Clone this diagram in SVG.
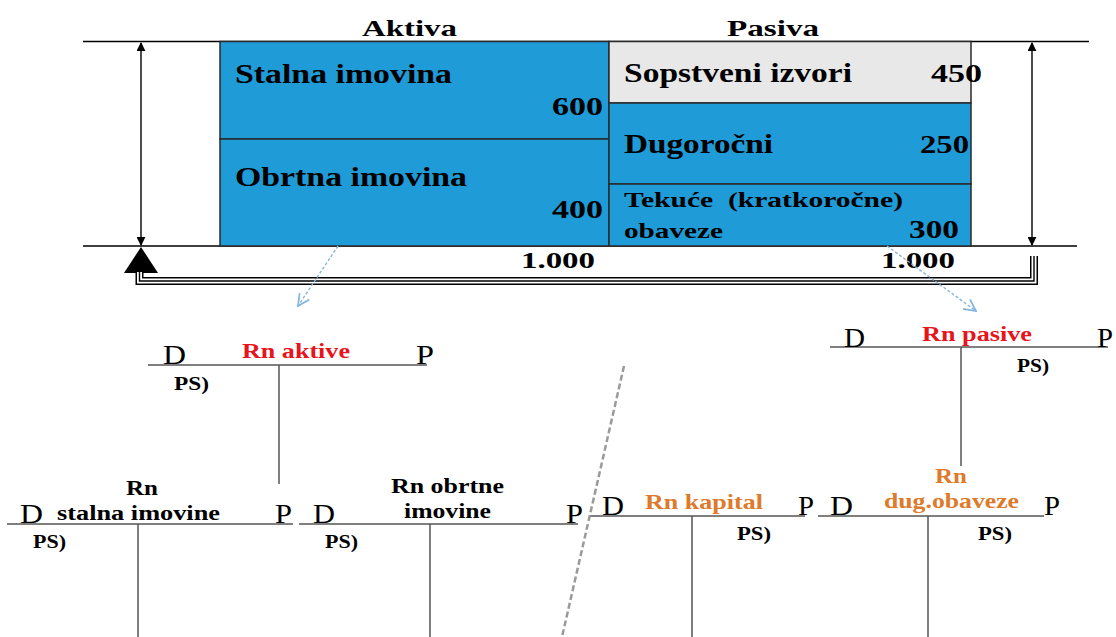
<svg xmlns="http://www.w3.org/2000/svg" width="1116" height="637" viewBox="0 0 1116 637">
<style>
.t{font-family:"Liberation Serif","Times New Roman",serif;font-weight:bold;fill:#000}
.dp{font-family:"Liberation Serif","Times New Roman",serif;font-size:27px;fill:#000}
.box{stroke:#2a2a2a;stroke-width:1.5}
.blue{fill:#1F9BD8}
.gray{fill:#E8E8E8}
.rule{stroke:#000;stroke-width:1.4;fill:none}
.tl{stroke:#555;stroke-width:1.5;fill:none}
.red{fill:#E8141C}
.org{fill:#DE7A2C}
.dash{stroke:#86B6DC;stroke-width:1.4;stroke-dasharray:3 2;fill:none}
</style>
<defs>
<marker id="ah" viewBox="0 0 10 10" refX="9" refY="5" markerWidth="9" markerHeight="9" markerUnits="userSpaceOnUse" orient="auto-start-reverse"><path d="M0,0 L10,5 L0,10 Z" fill="#000"/></marker>
<marker id="open" viewBox="0 0 12 12" refX="11" refY="6" markerWidth="14" markerHeight="14" markerUnits="userSpaceOnUse" orient="auto"><path d="M1,1 L11,6 L1,11" fill="none" stroke="#86B6DC" stroke-width="1.5"/></marker>
</defs>
<rect width="1116" height="637" fill="#fff"/>

<g id="balance-sheet">
  <text class="t" x="362" y="36" font-size="24" textLength="95" lengthAdjust="spacingAndGlyphs">Aktiva</text>
  <text class="t" x="727" y="36" font-size="24" textLength="92" lengthAdjust="spacingAndGlyphs">Pasiva</text>
  <line class="rule" x1="83" y1="41.5" x2="1089" y2="41.5"/>
  <line class="rule" x1="83" y1="246" x2="1077" y2="246"/>
  <g id="aktiva-stalna">
    <rect class="box blue" x="220" y="41.5" width="389" height="97.5"/>
    <text class="t" x="235" y="83" font-size="27" textLength="217" lengthAdjust="spacingAndGlyphs">Stalna imovina</text>
    <text class="t" x="552" y="115" font-size="26" textLength="51" lengthAdjust="spacingAndGlyphs">600</text>
  </g>
  <g id="aktiva-obrtna">
    <rect class="box blue" x="220" y="139" width="389" height="107"/>
    <text class="t" x="235" y="186" font-size="27" textLength="232" lengthAdjust="spacingAndGlyphs">Obrtna imovina</text>
    <text class="t" x="552" y="218" font-size="26" textLength="51" lengthAdjust="spacingAndGlyphs">400</text>
  </g>
  <g id="pasiva-sopstveni">
    <rect class="box gray" x="609" y="41.5" width="362" height="61.5"/>
    <text class="t" x="624" y="82" font-size="27" textLength="228" lengthAdjust="spacingAndGlyphs">Sopstveni izvori</text>
    <text class="t" x="931" y="82" font-size="26" textLength="51" lengthAdjust="spacingAndGlyphs">450</text>
  </g>
  <g id="pasiva-dugorocni">
    <rect class="box blue" x="609" y="103" width="362" height="81"/>
    <text class="t" x="624" y="153" font-size="27" textLength="149" lengthAdjust="spacingAndGlyphs">Dugoročni</text>
    <text class="t" x="920" y="153" font-size="26" textLength="49" lengthAdjust="spacingAndGlyphs">250</text>
  </g>
  <g id="pasiva-tekuce">
    <rect class="box blue" x="609" y="184" width="362" height="62"/>
    <text class="t" x="624" y="207" font-size="21" textLength="279" lengthAdjust="spacingAndGlyphs">Tekuće&#160; (kratkoročne)</text>
    <text class="t" x="624" y="238" font-size="21" textLength="99" lengthAdjust="spacingAndGlyphs">obaveze</text>
    <text class="t" x="909" y="238" font-size="26" textLength="50" lengthAdjust="spacingAndGlyphs">300</text>
  </g>
  <text class="t" x="521" y="268" font-size="24" textLength="74" lengthAdjust="spacingAndGlyphs">1.000</text>
  <text class="t" x="881" y="268" font-size="24" textLength="74" lengthAdjust="spacingAndGlyphs">1.000</text>
  <line class="rule" x1="141" y1="43" x2="141" y2="245" marker-start="url(#ah)" marker-end="url(#ah)"/>
  <line class="rule" x1="1032" y1="43" x2="1032" y2="245" marker-start="url(#ah)" marker-end="url(#ah)"/>
  <polygon points="141,247 124,273 158,273" fill="#000"/>
  <path d="M139.5,272 V281 H1034 V256" fill="none" stroke="#000" stroke-width="8"/>
  <path d="M139.5,272 V281 H1034 V256" fill="none" stroke="#fff" stroke-width="5"/>
  <path d="M139.5,272 V281 H1034 V256" fill="none" stroke="#000" stroke-width="1.4"/>
</g>

<g id="rn-aktive">
  <line class="tl" x1="148" y1="365" x2="427" y2="365"/>
  <text class="dp" x="163" y="364" textLength="23" lengthAdjust="spacingAndGlyphs">D</text>
  <text class="t red" x="242" y="358" font-size="21" textLength="108" lengthAdjust="spacingAndGlyphs">Rn aktive</text>
  <text class="dp" x="416" y="364" textLength="18" lengthAdjust="spacingAndGlyphs">P</text>
  <text class="t" x="174" y="390" font-size="19" textLength="35" lengthAdjust="spacingAndGlyphs">PS)</text>
</g>

<g id="rn-stalna">
  <line class="tl" x1="7" y1="524" x2="293" y2="524"/>
  <text class="dp" x="20" y="523" textLength="23" lengthAdjust="spacingAndGlyphs">D</text>
  <text class="t" x="126" y="495" font-size="20" textLength="32" lengthAdjust="spacingAndGlyphs">Rn</text>
  <text class="t" x="57" y="520" font-size="20" textLength="163" lengthAdjust="spacingAndGlyphs">stalna imovine</text>
  <text class="dp" x="275" y="523" textLength="17" lengthAdjust="spacingAndGlyphs">P</text>
  <text class="t" x="33" y="548" font-size="19" textLength="33" lengthAdjust="spacingAndGlyphs">PS)</text>
</g>

<g id="rn-obrtne">
  <line class="tl" x1="299" y1="524" x2="578" y2="524"/>
  <text class="dp" x="313" y="523" textLength="22" lengthAdjust="spacingAndGlyphs">D</text>
  <text class="t" x="391" y="493" font-size="20" textLength="113" lengthAdjust="spacingAndGlyphs">Rn obrtne</text>
  <text class="t" x="404" y="518" font-size="20" textLength="87" lengthAdjust="spacingAndGlyphs">imovine</text>
  <text class="dp" x="566" y="523" textLength="17" lengthAdjust="spacingAndGlyphs">P</text>
  <text class="t" x="325" y="548" font-size="19" textLength="33" lengthAdjust="spacingAndGlyphs">PS)</text>
</g>

<g id="rn-pasive">
  <line class="tl" x1="830" y1="347" x2="1108" y2="347"/>
  <text class="dp" x="844" y="347" textLength="21" lengthAdjust="spacingAndGlyphs">D</text>
  <text class="t red" x="922" y="341" font-size="21" textLength="110" lengthAdjust="spacingAndGlyphs">Rn pasive</text>
  <text class="dp" x="1097" y="347" textLength="16" lengthAdjust="spacingAndGlyphs">P</text>
  <text class="t" x="1017" y="372" font-size="19" textLength="32" lengthAdjust="spacingAndGlyphs">PS)</text>
</g>

<g id="rn-kapital">
  <line class="tl" x1="590" y1="516" x2="805" y2="516"/>
  <text class="dp" x="602" y="515" textLength="22" lengthAdjust="spacingAndGlyphs">D</text>
  <text class="t org" x="645" y="509" font-size="21" textLength="118" lengthAdjust="spacingAndGlyphs">Rn kapital</text>
  <text class="dp" x="798" y="515" textLength="16" lengthAdjust="spacingAndGlyphs">P</text>
  <text class="t" x="737" y="540" font-size="19" textLength="34" lengthAdjust="spacingAndGlyphs">PS)</text>
</g>

<g id="rn-dug-obaveze">
  <line class="tl" x1="818" y1="516" x2="1044" y2="516"/>
  <text class="dp" x="830" y="515" textLength="23" lengthAdjust="spacingAndGlyphs">D</text>
  <text class="t org" x="935" y="483" font-size="21" textLength="32" lengthAdjust="spacingAndGlyphs">Rn</text>
  <text class="t org" x="884" y="508" font-size="21" textLength="135" lengthAdjust="spacingAndGlyphs">dug.obaveze</text>
  <text class="dp" x="1044" y="515" textLength="16" lengthAdjust="spacingAndGlyphs">P</text>
  <text class="t" x="978" y="540" font-size="19" textLength="34" lengthAdjust="spacingAndGlyphs">PS)</text>
</g>

<g id="connectors">
  <line class="tl" x1="279" y1="365" x2="279" y2="484"/>
  <line class="tl" x1="138" y1="524" x2="138" y2="637"/>
  <line class="tl" x1="430" y1="524" x2="430" y2="637"/>
  <line class="tl" x1="961" y1="347" x2="961" y2="466"/>
  <line class="tl" x1="692" y1="516" x2="692" y2="637"/>
  <line class="tl" x1="928" y1="516" x2="928" y2="637"/>
  <path class="dash" d="M338,246 L298,306" marker-end="url(#open)"/>
  <path class="dash" d="M887,246 L976,311" marker-end="url(#open)"/>
  <line x1="624" y1="366" x2="562" y2="637" stroke="#9a9a9a" stroke-width="2.5" stroke-dasharray="6 3"/>
</g>
</svg>
